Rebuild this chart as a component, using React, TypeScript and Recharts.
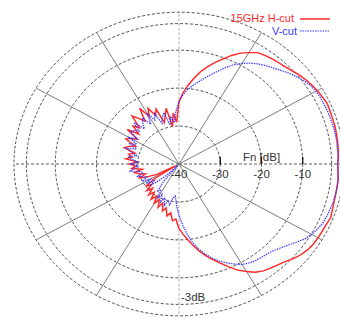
import { RadarChart, Radar, PolarGrid, PolarAngleAxis, PolarRadiusAxis, Legend } from "recharts";

// angle in degrees (0 = right, counter-clockwise), 3 degree steps
const ANGLES = [
  0, 3, 6, 9, 12, 15, 18, 21, 24, 27,
  30, 33, 36, 39, 42, 45, 48, 51, 54, 57,
  60, 63, 66, 69, 72, 75, 78, 81, 84, 87,
  90, 93, 96, 99, 102, 105, 108, 111, 114, 117,
  120, 123, 126, 129, 132, 135, 138, 141, 144, 147,
  150, 153, 156, 159, 162, 165, 168, 171, 174, 177,
  180, 183, 186, 189, 192, 195, 198, 201, 204, 207,
  210, 213, 216, 219, 222, 225, 228, 231, 234, 237,
  240, 243, 246, 249, 252, 255, 258, 261, 264, 267,
  270, 273, 276, 279, 282, 285, 288, 291, 294, 297,
  300, 303, 306, 309, 312, 315, 318, 321, 324, 327,
  330, 333, 336, 339, 342, 345, 348, 351, 354, 357,
];

// 15GHz H-cut, Fn [dB]
const H_CUT = [
  -1.5, -1.3, -1.2, -1.1, -1.0, -0.9, -0.9, -0.8, -0.7, -1.0,
  -1.3, -1.7, -2.1, -2.6, -3.2, -3.7, -4.0, -4.3, -4.6, -5.0,
  -6.1, -7.2, -8.7, -10.4, -11.9, -13.5, -15.2, -17.2, -19.2, -21.2,
  -23.5, -29, -26.5, -30, -25, -27, -28.5, -24.5, -26, -23.5,
  -25.5, -22.5, -26, -24.5, -23, -26.5, -25, -27.5, -24.5, -28,
  -26.5, -25.5, -28.5, -27, -26, -29, -27.5, -28.5, -27, -30,
  -28, -29.5, -28.5, -31, -29, -30, -31.5, -29.5, -32, -34,
  -39, -33, -30, -31.5, -29.5, -31, -29, -30.5, -28.5, -30,
  -28, -29.5, -27.5, -29, -27, -28, -26, -27, -25, -25.5,
  -23, -21.5, -20, -18.3, -16.6, -15, -13.5, -12, -10.3, -8.6,
  -7.3, -6.0, -5.2, -4.7, -4.2, -3.6, -2.7, -2.0, -1.5, -1.2,
  -1.1, -1.0, -0.9, -0.6, -0.9, -1.1, -1.2, -1.2, -1.2, -1.4,
];

// V-cut, Fn [dB]
const V_CUT = [
  -1.5, -1.4, -1.4, -1.3, -1.3, -1.3, -1.4, -1.4, -1.5, -1.5,
  -1.7, -2.0, -2.6, -3.4, -4.2, -5.1, -5.9, -6.6, -7.4, -8.3,
  -9.4, -10.6, -12.2, -13.8, -15.3, -16.7, -18.0, -19.1, -20.3, -21.8,
  -23.6, -26, -29, -27.5, -29.5, -26, -27, -28.5, -25.5, -27,
  -24.5, -27.5, -25, -26, -27.5, -24.5, -27, -26, -25.5, -28,
  -26, -28.5, -27, -29, -26.5, -28, -29.5, -27.5, -28.5, -30,
  -28.5, -30, -29, -28, -30.5, -31, -29.5, -30.5, -31.5, -30,
  -32, -30.5, -32.5, -31, -33.5, -36, -39.5, -34, -31, -32,
  -29.5, -31, -29, -30.5, -28.5, -30, -29, -31, -31.5, -29,
  -26.5, -24, -21.5, -19.1, -17.1, -15.4, -13.9, -12.6, -11.5, -10.4,
  -9.4, -8.9, -8.5, -8.3, -8.1, -7.7, -6.9, -6.0, -4.9, -3.7,
  -2.9, -2.3, -1.8, -1.6, -1.5, -1.3, -1.2, -1.2, -1.2, -1.4,
];

const RADIUS_TICKS = [-40, -30, -20, -10, -3, 0];
const LABELED_TICKS = [-40, -30, -20, -10];

const data = ANGLES.map((a, i) => ({ angle: a, h: H_CUT[i], v: V_CUT[i] }));

const SY = 0.92; // the reference is a bit squashed vertically
const CX = 179;
const CY = 164 / SY;
const R = 165;
const STEP = 3; // recharts puts each point one band after its category
const FONT = "'Liberation Sans', Arial, sans-serif";

const RadiusTick = (props: any) => {
  const { x, y, payload } = props;
  const val = payload.value;
  if (val === -3) {
    const r = x - CX;
    return (
      <text x={CX + 2} y={CY + r - 4} fontSize={11.5} fontFamily={FONT} fill="#333" textAnchor="start">
        -3dB
      </text>
    );
  }
  if (!LABELED_TICKS.includes(val)) return null;
  return (
    <g>
      {val !== -40 && <line x1={x} y1={y - 8} x2={x} y2={y} stroke="#000" strokeWidth={1.2} />}
      <text x={x} y={y + 15} fontSize={11.5} fontFamily={FONT} fill="#333" textAnchor="middle">
        {val}
      </text>
    </g>
  );
};

const renderLegend = () => (
  <svg width={340} height={45} style={{ display: "block" }}>
    <text x={294} y={22 / SY} fontSize={11} fontFamily={FONT} fill="#ff2a2a" textAnchor="end">
      15GHz H-cut
    </text>
    <line x1={300} y1={19 / SY} x2={330} y2={19 / SY} stroke="#ff2a2a" strokeWidth={1.5} />
    <text x={297} y={35 / SY} fontSize={11} fontFamily={FONT} fill="#3a3aff" textAnchor="end">
      V-cut
    </text>
    <line x1={300} y1={31 / SY} x2={330} y2={31 / SY} stroke="#3a3aff" strokeWidth={1.3} strokeDasharray="1.5 1" />
  </svg>
);

export default function App() {
  return (
    <div style={{ position: "fixed", left: 0, top: 0, width: 340, height: 320, overflow: "hidden", background: "#fff" }}>
      <div style={{ transform: `scaleY(${SY})`, transformOrigin: "0 0" }}>
        <RadarChart
          width={345}
          height={350}
          data={data}
          cx={CX}
          cy={CY}
          outerRadius={R}
          startAngle={-STEP}
          endAngle={360 - STEP}
          margin={{ top: 0, right: 0, bottom: 0, left: 0 }}
        >
          <PolarGrid gridType="circle" radialLines={false} polarAngles={[]} stroke="#444" strokeDasharray="3 2" />
          <PolarGrid gridType="circle" polarRadius={[]} polarAngles={[30, 60, 120, 150, 210, 240, 300, 330]} stroke="#777" />
          <PolarGrid gridType="circle" polarRadius={[]} polarAngles={[90, 270]} stroke="#aaa" strokeDasharray="3 2" />
          <PolarGrid gridType="circle" polarRadius={[]} polarAngles={[0, 180]} stroke="#555" strokeDasharray="3 2" />
          <PolarAngleAxis dataKey="angle" tick={false} axisLine={false} tickLine={false} />
          <PolarRadiusAxis
            angle={0}
            type="number"
            domain={[-40, 0]}
            ticks={RADIUS_TICKS}
            tick={RadiusTick}
            axisLine={false}
            tickLine={false}
          />
          <Radar dataKey="h" name="15GHz H-cut" stroke="#ff2a2a" strokeWidth={1.5} fill="none" fillOpacity={0} dot={false} isAnimationActive={false} />
          <Radar dataKey="v" name="V-cut" stroke="#3a3aff" strokeWidth={1.3} strokeDasharray="1.5 1" fill="none" fillOpacity={0} dot={false} isAnimationActive={false} />
          <Legend content={renderLegend} wrapperStyle={{ position: "absolute", top: 0, left: 0, width: 340 }} />
        </RadarChart>
        <div style={{ position: "absolute", left: 243, top: 152 / SY, fontSize: 11.5, fontFamily: FONT, color: "#333" }}>
          Fn [dB]
        </div>
      </div>
    </div>
  );
}
